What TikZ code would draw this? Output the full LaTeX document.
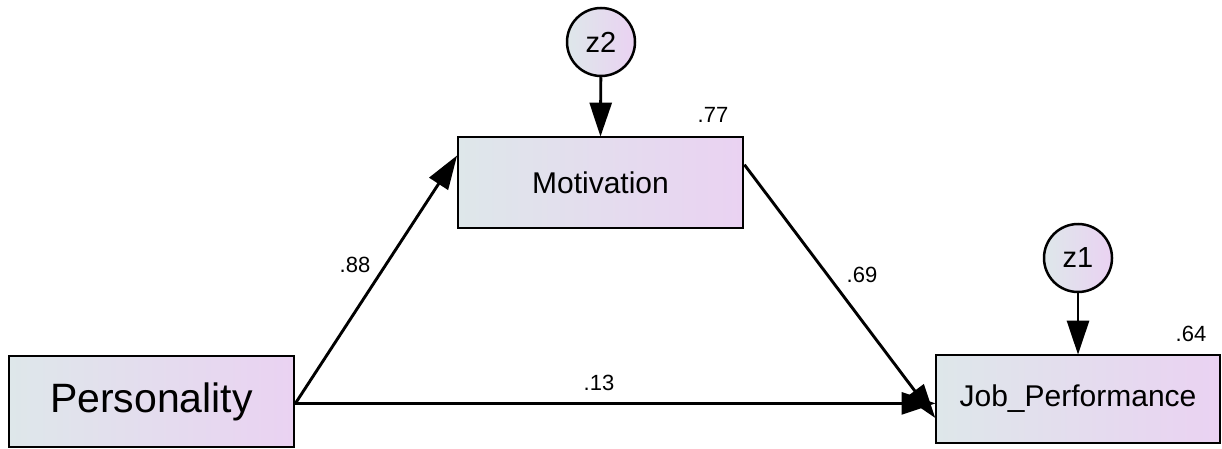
\documentclass[tikz,border=0pt]{standalone}
\usepackage{fontspec}
\setmainfont{Liberation Sans}
\usetikzlibrary{arrows.meta,calc}
\definecolor{gleft}{RGB}{222,231,234}
\definecolor{gright}{RGB}{234,210,242}
\tikzset{
  obs/.style={draw=black, line width=2.8pt, left color=gleft, right color=gright,
    minimum width=285pt, minimum height=91pt, inner sep=0pt, font=\fontsize{30}{36}\selectfont},
  err/.style={circle, draw=black, line width=2.5pt, shading angle=45, left color=gleft, right color=gright,
    minimum size=68pt, inner sep=0pt, font=\fontsize{29}{34}\selectfont},
  path/.style={line width=2.9pt, -{Triangle[length=34pt,width=22pt]}, shorten >=-1pt},
  coef/.style={font=\fontsize{22}{26}\selectfont, inner sep=0pt}
}
\begin{document}
\begin{tikzpicture}[x=1pt,y=-1pt]
\useasboundingbox (0,0) rectangle (1222,449);
\node[obs, font=\fontsize{41}{48}\selectfont] (pers) at (151.5,401.5) {Personality};
\node[obs] (mot) at (600.5,182.5) {Motivation};
\node[obs, minimum width=284pt, minimum height=88pt] (job) at (1078,399) {Job\_Performance};
\node[err] (z2) at (601,42) {z2};
\node[err] (z1) at (1078,258) {z1};
\coordinate (pe) at ($(pers.north east)!0.52!(pers.south east)$);
\coordinate (mw) at ($(mot.north west)!0.22!(mot.south west)$);
\coordinate (me) at ($(mot.north east)!0.31!(mot.south east)$);
\coordinate (jw) at ($(job.north west)!0.70!(job.south west)$);
\draw[path] (z2) -- (mot.north);
\draw[path] (z1) -- (job.north);
\draw[path] (pe) -- (mw);
\draw[path] (pe) -- (pe -| job.west);
\draw[path] (me) -- (jw);
\node[coef] (c88) at (355,265) {.88};
\node[coef] (c69) at (862,275) {.69};
\node[coef] (c13) at (599,383) {.13};
\node[coef] (c77) at (713,115) {.77};
\node[coef] (c64) at (1191,334) {.64};
\end{tikzpicture}
\end{document}
